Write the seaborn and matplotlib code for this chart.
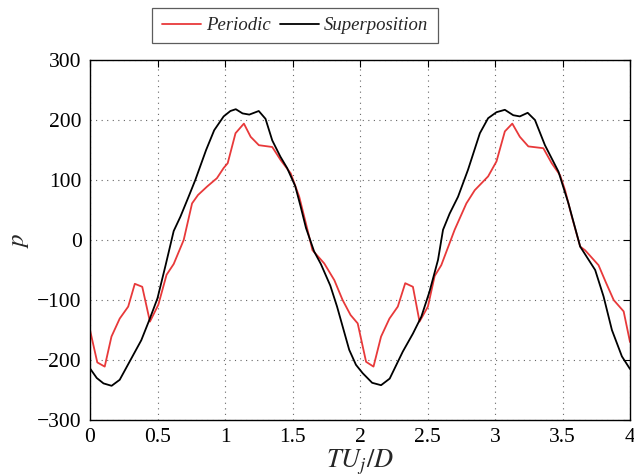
import matplotlib
matplotlib.use("Agg")
import matplotlib.pyplot as plt
import seaborn as sns
import pandas as pd

# Pressure signal over two periods
t_periodic = [0.00, 0.054, 0.109, 0.159, 0.22, 0.283, 0.332, 0.387, 0.444, 0.506,
              0.567, 0.62, 0.694, 0.756, 0.80, 0.867, 0.94, 0.99, 1.02, 1.078,
              1.14, 1.19, 1.251, 1.35, 1.413, 1.487, 1.55, 1.611, 1.648, 1.735,
              1.81, 1.871, 1.93, 1.983, 2.045, 2.10, 2.156, 2.218, 2.28, 2.335,
              2.392, 2.441, 2.503, 2.553, 2.602, 2.701, 2.788, 2.85, 2.949, 3.011,
              3.073, 3.128, 3.184, 3.247, 3.358, 3.42, 3.482, 3.519, 3.569, 3.631,
              3.667, 3.767, 3.82, 3.879, 3.953, 4.00]
p_periodic = [-150, -204, -211, -161, -131, -111, -73, -78, -136, -108,
              -58, -40, 0, 61, 75, 89, 103, 120, 128, 178,
              194, 172, 158, 155, 133, 111, 72, 17, -17, -39,
              -67, -100, -125, -139, -203, -211, -161, -131, -111, -72,
              -78, -136, -111, -60, -42, 17, 61, 83, 106, 131,
              181, 194, 172, 156, 153, 128, 108, 83, 39, -11,
              -17, -42, -70, -100, -119, -170]

t_super = [0.00, 0.05, 0.10, 0.16, 0.22, 0.30, 0.38, 0.44, 0.50, 0.56,
           0.62, 0.67, 0.73, 0.78, 0.86, 0.92, 0.99, 1.04, 1.08, 1.13,
           1.18, 1.25, 1.30, 1.35, 1.41, 1.46, 1.52, 1.56, 1.60, 1.66,
           1.71, 1.78, 1.83, 1.86, 1.92, 1.97, 2.02, 2.09, 2.156, 2.22,
           2.317, 2.392, 2.454, 2.515, 2.578, 2.615, 2.664, 2.726, 2.80, 2.888,
           2.949, 3.011, 3.073, 3.135, 3.184, 3.242, 3.296, 3.37, 3.47, 3.544,
           3.631, 3.742, 3.804, 3.866, 3.94, 4.00]
p_super = [-214, -230, -239, -243, -233, -200, -167, -133, -97, -42,
           15, 39, 72, 100, 150, 183, 206, 215, 218, 211,
           209, 215, 202, 166, 139, 120, 90, 56, 20, -19,
           -40, -76, -111, -135, -183, -208, -222, -238, -242, -231,
           -186, -156, -128, -86, -33, 17, 44, 72, 117, 178,
           203, 213, 217, 208, 206, 212, 200, 158, 114, 61,
           -11, -50, -94, -150, -194, -215]

series_names = ["Periodic", "Superposition"]
series_colors = {"Periodic": "#e8393a", "Superposition": "#000000"}

x_ticks = [0, 0.5, 1, 1.5, 2, 2.5, 3, 3.5, 4]
x_tick_labels = ["0", "0.5", "1", "1.5", "2", "2.5", "3", "3.5", "4"]
y_ticks = [-300, -200, -100, 0, 100, 200, 300]
y_tick_labels = ["\u2212300", "\u2212200", "\u2212100", "0", "100", "200", "300"]

df = pd.concat([
    pd.DataFrame({"t": t_periodic, "p": p_periodic, "series": series_names[0]}),
    pd.DataFrame({"t": t_super, "p": p_super, "series": series_names[1]}),
], ignore_index=True)

sns.set_theme(style="white")
plt.rcParams["font.family"] = ["Liberation Serif", "DejaVu Serif"]
plt.rcParams["mathtext.fontset"] = "stix"

fig = plt.figure(figsize=(6.34, 4.76), dpi=100)
ax = fig.add_axes([90 / 634, 1 - 420 / 476, 540 / 634, 360 / 476])

sns.lineplot(data=df, x="t", y="p", hue="series", palette=series_colors,
             hue_order=series_names, sort=False, estimator=None,
             linewidth=1.3, ax=ax, legend=False)

ax.set_xlim(0, 4)
ax.set_ylim(-300, 300)
ax.set_xticks(x_ticks)
ax.set_xticklabels(x_tick_labels)
ax.set_yticks(y_ticks)
ax.set_yticklabels(y_tick_labels)

ax.grid(True, color="#666666", linestyle=(0, (1, 4)), linewidth=0.8)
ax.tick_params(direction="in", top=True, right=True, length=5, width=0.8,
               labelsize=15.5, colors="black", pad=6)
for s in ax.spines.values():
    s.set_color("black")
    s.set_linewidth(1.0)

ax.set_xlabel("$TU_j/D$", fontsize=19, labelpad=0)
ax.set_ylabel("$p$", fontsize=18)
ax.yaxis.set_label_coords(-0.11, 0.5)

handles = [plt.Line2D([], [], color=series_colors[n], linewidth=1.3) for n in series_names]
leg = fig.legend(handles, series_names, loc="center", bbox_to_anchor=(295 / 634, 1 - 25.5 / 476),
                 ncol=2, frameon=True, fancybox=False, edgecolor="#333333",
                 handlelength=2.1, handletextpad=0.25, columnspacing=0.5,
                 borderpad=0.5, prop={"style": "italic", "size": 13.5})
leg.get_frame().set_linewidth(0.9)

fig.savefig("out.png", dpi=100)
